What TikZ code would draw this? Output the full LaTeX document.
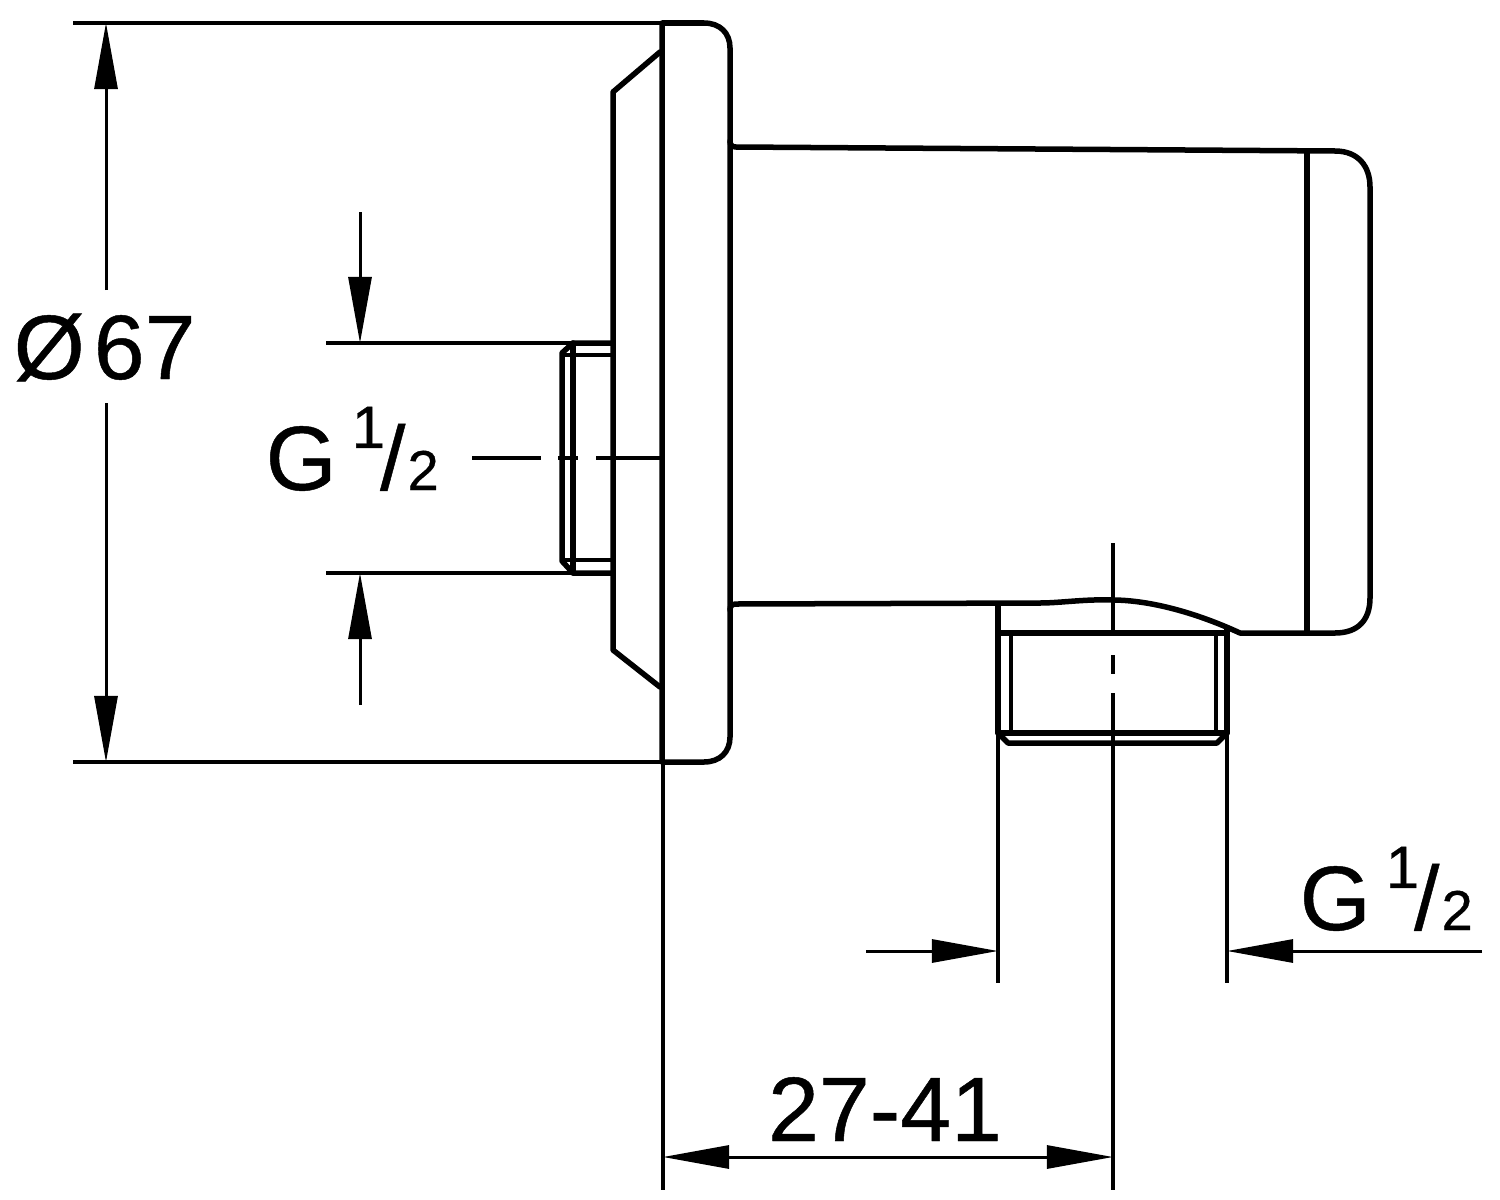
\documentclass[tikz,border=0pt]{standalone}
\usepackage{fontspec}
\setmainfont[FakeBold=0.5]{Liberation Sans}
\usetikzlibrary{arrows.meta}
\tikzset{
    outline/.style={line width=0.055cm, line join=round, line cap=round},
    thinline/.style={line width=0.035cm},
    dimtip/.tip={Triangle[length=0.66cm, width=0.23cm]},
    dimline/.style={line width=0.03cm, -dimtip},
    dimtext/.style={inner sep=0pt, font=\fontsize{26}{26}\selectfont}
}
\newcommand{\halfsize}{%
    G\hspace{0.15cm}\raisebox{0.42cm}{\fontsize{17}{17}\selectfont 1}\hspace{-0.05cm}/\hspace{0.02cm}\fontsize{16}{16}\selectfont 2}

\begin{document}
\begin{tikzpicture}[x=0.01cm, y=-0.01cm]
    \useasboundingbox (0, 0) rectangle (1500, 1200);

    % flange and back plate
    \draw[outline] (662, 23) -- (704, 23) .. controls (720, 23) and (730, 33) .. (730, 48)
        -- (730, 737) .. controls (730, 752) and (720, 762) .. (704, 762) -- (662, 762) -- cycle;
    \draw[outline] (660, 52) -- (613, 92) -- (613, 650) -- (660, 687);

    % body
    \draw[outline] (730, 141) .. controls (730, 145) and (732, 147) .. (736, 147)
        -- (1335, 151) .. controls (1358, 151) and (1370, 166) .. (1370, 187)
        -- (1370, 598) .. controls (1370, 620) and (1358, 633) .. (1335, 633) -- (1240, 633)
        .. controls (1190, 610) and (1145, 600) .. (1112, 600)
        .. controls (1085, 599) and (1060, 603) .. (1040, 603)
        -- (736, 604) .. controls (732, 604) and (730, 606) .. (730, 610);
    \draw[outline] (1307, 151) -- (1307, 633);

    % lower thread
    \draw[outline] (998, 604) -- (998, 733) -- (1227, 733) -- (1227, 628);
    \draw[outline] (998, 633) -- (1227, 633);
    \draw[outline] (998, 733) -- (1008, 743) -- (1217, 743) -- (1227, 733);
    \draw[thinline] (1011, 633) -- (1011, 733);
    \draw[thinline] (1216, 633) -- (1216, 733);

    % left thread
    \draw[outline] (612, 343) -- (573, 343) -- (562, 353) -- (562, 561) -- (573, 573) -- (612, 573);
    \draw[outline] (573, 343) -- (573, 573);
    \draw[thinline] (565, 355) -- (612, 355);
    \draw[thinline] (565, 560) -- (612, 560);

    % centre lines
    \draw[thinline] (472, 458) -- (541, 458);
    \draw[thinline] (558, 458) -- (578, 458);
    \draw[thinline] (596, 458) -- (662, 458);
    \draw[thinline] (1113, 543) -- (1113, 633);
    \draw[thinline] (1113, 655) -- (1113, 674);
    \draw[thinline] (1113, 693) -- (1113, 1190);

    % extension lines
    \draw[thinline] (73, 23) -- (662, 23);
    \draw[thinline] (73, 762) -- (662, 762);
    \draw[thinline] (326, 343) -- (573, 343);
    \draw[thinline] (326, 573) -- (573, 573);
    \draw[thinline] (663, 762) -- (663, 1190);
    \draw[thinline] (998, 733) -- (998, 983);
    \draw[thinline] (1227, 733) -- (1227, 983);

    % labels
    \node[dimtext, anchor=base west] (dia) at (13, 379) {Ø\hspace{0.09cm}67};
    \node[dimtext, anchor=base west] (threadleft) at (265, 490) {\halfsize};
    \node[dimtext, anchor=base west] (threadright) at (1299, 930) {\halfsize};
    \node[dimtext, anchor=base] (reach) at (885, 1141) {27-41};

    % dimension arrows
    \coordinate (diatop) at (106, 23);
    \coordinate (diabot) at (106, 762);
    \coordinate (uppertip) at (360, 343);
    \coordinate (uppertail) at (360, 212);
    \coordinate (lowertip) at (360, 573);
    \coordinate (lowertail) at (360, 705);
    \coordinate (lefttip) at (998, 951);
    \coordinate (lefttail) at (866, 951);
    \coordinate (righttip) at (1227, 951);
    \coordinate (righttail) at (1482, 951);
    \coordinate (reachleft) at (663, 1157);
    \coordinate (reachright) at (1113, 1157);
    \draw[dimline] (106, 290) -- (diatop);
    \draw[dimline] (106, 403) -- (diabot);
    \draw[dimline] (uppertail) -- (uppertip);
    \draw[dimline] (lowertail) -- (lowertip);
    \draw[dimline] (lefttail) -- (lefttip);
    \draw[dimline] (righttail) -- (righttip);
    \draw[dimline, dimtip-dimtip] (reachleft) -- (reachright);
\end{tikzpicture}
\end{document}
